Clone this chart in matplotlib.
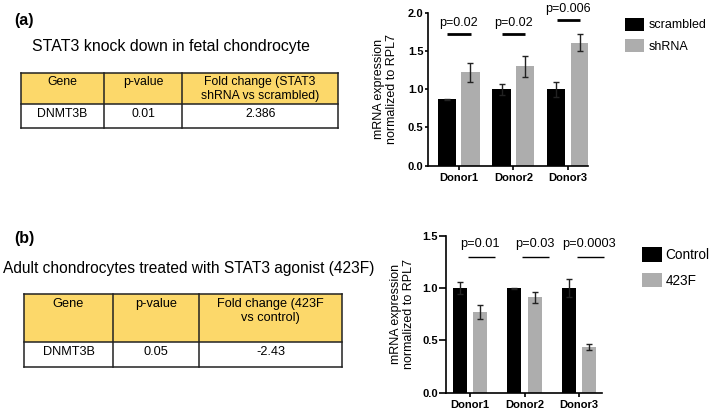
import matplotlib
matplotlib.use("Agg")
import matplotlib.pyplot as plt
from matplotlib.patches import Rectangle
import numpy as np

plt.rcParams['font.family'] = ['Liberation Sans', 'DejaVu Sans']

W, H = 709, 415

# ---------------- data ----------------
donors = ["Donor1", "Donor2", "Donor3"]

a_series = ["scrambled", "shRNA"]
a_scr = [0.87, 1.00, 1.00]
a_scr_err = [0.005, 0.07, 0.10]
a_sh = [1.22, 1.30, 1.61]
a_sh_err = [0.12, 0.14, 0.11]
a_pvals = ["p=0.02", "p=0.02", "p=0.006"]
a_sig_y = [1.72, 1.72, 1.90]
a_yticks = [0.0, 0.5, 1.0, 1.5, 2.0]

b_series = ["Control", "423F"]
b_ctl = [1.00, 1.00, 1.00]
b_ctl_err = [0.06, 0.005, 0.09]
b_trt = [0.77, 0.91, 0.44]
b_trt_err = [0.07, 0.055, 0.03]
b_pvals = ["p=0.01", "p=0.03", "p=0.0003"]
b_sig_y = [1.30, 1.30, 1.30]
b_yticks = [0.0, 0.5, 1.0, 1.5]

ylabel = "mRNA expression\nnormalized to RPL7"

a_title = "STAT3 knock down in fetal chondrocyte"
a_header = ["Gene", "p-value", "Fold change (STAT3\nshRNA vs scrambled)"]
a_row = ["DNMT3B", "0.01", "2.386"]

b_title = "Adult chondrocytes treated with STAT3 agonist (423F)"
b_header = ["Gene", "p-value", "Fold change (423F\nvs control)"]
b_row = ["DNMT3B", "0.05", "-2.43"]

BLACK = "#000000"
GREY = "#ADADAD"
YELLOW = "#FCD86A"

fig = plt.figure(figsize=(W / 100, H / 100), dpi=100)

def ax_px(x0, y0, x1, y1):
    return fig.add_axes([x0 / W, 1 - y1 / H, (x1 - x0) / W, (y1 - y0) / H])

# ---------------- overlay for tables/titles ----------------
ov = fig.add_axes([0, 0, 1, 1])
ov.set_xlim(0, W)
ov.set_ylim(H, 0)
ov.axis("off")

def draw_table(x0, x1, cols, ytop, ymid, ybot, header, row, fs, head_pad, row_pad):
    ov.add_patch(Rectangle((x0, ytop), x1 - x0, ymid - ytop, facecolor=YELLOW,
                           edgecolor="none", zorder=1))
    ov.add_patch(Rectangle((x0, ymid), x1 - x0, ybot - ymid, facecolor="white",
                           edgecolor="none", zorder=1))
    lw = 1.1
    for y in (ytop, ymid, ybot):
        ov.plot([x0, x1], [y, y], color="#222222", lw=lw, zorder=2)
    xs = [x0] + cols + [x1]
    for x in xs:
        ov.plot([x, x], [ytop, ybot], color="#222222", lw=lw, zorder=2)
    for i in range(3):
        cx = (xs[i] + xs[i + 1]) / 2
        ov.text(cx, ytop + head_pad, header[i], ha="center", va="top", fontsize=fs,
                linespacing=1.15, zorder=3)
        ov.text(cx, ymid + row_pad, row[i], ha="center", va="top", fontsize=fs, zorder=3)

# panel (a)
ov.text(14, 20, "(a)", fontsize=11.5, fontweight="bold", ha="left", va="center")
ov.text(32, 47, a_title, fontsize=11.4, ha="left", va="center")
draw_table(20.7, 338, [104.3, 182.3], 72.7, 104, 128.3, a_header, a_row, 8.8, 3.5, 3.5)

# panel (b)
ov.text(14, 238, "(b)", fontsize=11.5, fontweight="bold", ha="left", va="center")
ov.text(3, 268, b_title, fontsize=11.2, ha="left", va="center")
draw_table(24.3, 342.3, [112.7, 199.3], 294.3, 341.7, 366.7, b_header, b_row, 9.2, 4, 4)

# ---------------- bar chart helper ----------------
def bar_chart(ax, v1, e1, v2, e2, labels, off, bw, xlim, ylim, yticks,
              pvals, sig_y, sig_x0, sig_x1, ptxt_x, ptxt_y, sig_lw, pfs,
              ytick_len, labelpad):
    x = np.arange(len(donors))
    ax.bar(x - off, v1, bw, color=BLACK, label=labels[0], zorder=2)
    ax.bar(x + off, v2, bw, color=GREY, label=labels[1], zorder=2)
    ek = dict(ecolor="#222222", elinewidth=1.0, capsize=2.5, capthick=1.0, fmt="none", zorder=3)
    ax.errorbar(x - off, v1, yerr=e1, **ek)
    ax.errorbar(x + off, v2, yerr=e2, **ek)
    for i in range(len(donors)):
        ax.plot([i + sig_x0, i + sig_x1], [sig_y[i], sig_y[i]], color="black",
                lw=sig_lw, clip_on=False, solid_capstyle="butt")
        ax.text(i + ptxt_x, sig_y[i] + ptxt_y, pvals[i], ha="center", va="bottom",
                fontsize=pfs, clip_on=False)
    ax.set_xlim(*xlim)
    ax.set_ylim(*ylim)
    ax.set_xticks(x)
    ax.set_xticklabels(donors, fontsize=8, fontweight="bold")
    ax.set_yticks(yticks)
    ax.set_yticklabels([f"{t:.1f}" for t in yticks], fontsize=8, fontweight="bold")
    ax.spines["top"].set_visible(False)
    ax.spines["right"].set_visible(False)
    ax.spines["left"].set_linewidth(1.2)
    ax.spines["bottom"].set_linewidth(1.2)
    ax.tick_params(axis="x", direction="out", length=3, width=1.2, pad=2)
    ax.tick_params(axis="y", direction="out", length=ytick_len, width=1.2, pad=1)
    ax.set_ylabel(ylabel, fontsize=9, linespacing=1.1, labelpad=labelpad)
    ax.set_facecolor("none")

# chart (a)
axa = ax_px(427.7, 12.7, 587.7, 165.7)
bar_chart(axa, a_scr, a_scr_err, a_sh, a_sh_err, a_series,
          off=0.215, bw=0.335, xlim=(-0.567, 2.36), ylim=(0, 2.0), yticks=a_yticks,
          pvals=a_pvals, sig_y=a_sig_y, sig_x0=-0.21, sig_x1=0.22,
          ptxt_x=0.0, ptxt_y=0.07, sig_lw=2.0, pfs=9, ytick_len=2, labelpad=7)
axa.legend(loc="upper left", bbox_to_anchor=(1.2, 1.0), frameon=False, fontsize=9,
           handlelength=1.55, handleheight=1.2, handletextpad=0.4, labelspacing=0.65,
           borderaxespad=0)

# chart (b)
axb = ax_px(446, 235.7, 602, 392.7)
bar_chart(axb, b_ctl, b_ctl_err, b_trt, b_trt_err, b_series,
          off=0.19, bw=0.257, xlim=(-0.44, 2.42), ylim=(0, 1.5), yticks=b_yticks,
          pvals=b_pvals, sig_y=b_sig_y, sig_x0=-0.04, sig_x1=0.45,
          ptxt_x=0.18, ptxt_y=0.06, sig_lw=1.0, pfs=9.2, ytick_len=5, labelpad=5)
axb.legend(loc="upper left", bbox_to_anchor=(1.22, 0.96), frameon=False, fontsize=9.8,
           handlelength=1.45, handleheight=1.3, handletextpad=0.3, labelspacing=0.75,
           borderaxespad=0)

fig.savefig("out.png", dpi=100)
